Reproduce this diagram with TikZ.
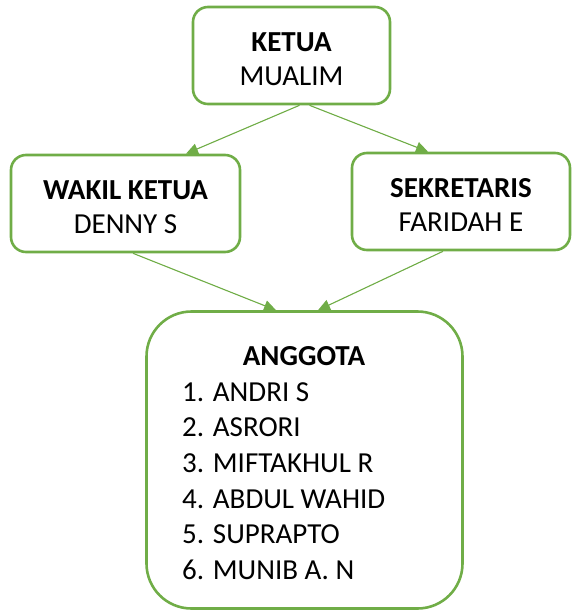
\documentclass[tikz,border=0pt]{standalone}
\usepackage{fontspec}
\setmainfont{Carlito}
\usetikzlibrary{arrows.meta,positioning}
\definecolor{Green}{HTML}{70AD47}

\begin{document}
\begin{tikzpicture}[x=1pt,y=-1pt,>={Triangle[length=12pt,width=11pt]},
    kotak/.style={draw=Green,line width=2.6pt,rounded corners=15pt,align=center,
      minimum height=97pt,inner sep=0pt,font=\fontsize{29}{34}\selectfont},
    panah/.style={->,draw=Green,fill=Green,line width=1.1pt},
    teks/.style={inner sep=0pt,font=\fontsize{29}{35.7}\selectfont}]
  \useasboundingbox (0,0) rectangle (573,614);
  \node[kotak,minimum width=197pt] (ketua) at (291.5,55.5) {\rule{0pt}{26pt}\textbf{KETUA}\\MUALIM};
  \node[kotak,minimum width=229pt] (wakil) at (125.5,203.5) {\rule{0pt}{26pt}\textbf{WAKIL KETUA}\\DENNY S};
  \node[kotak,minimum width=218pt] (sekre) at (461,201.5) {\rule{0pt}{26pt}\textbf{SEKRETARIS}\\FARIDAH E};
  \node[kotak,rounded corners=45pt,minimum width=316pt,minimum height=297pt] (anggota) at (304.5,460) {};
  \node[teks,anchor=base] (judul) at (304,365) {\textbf{ANGGOTA}};
  \node[teks,anchor=north west,align=left] (daftar) at (182,382) {1. ANDRI S\\2. ASRORI\\3. MIFTAKHUL R\\4. ABDUL WAHID\\5. SUPRAPTO\\6. MUNIB A. N};
  % garis komando
  \draw[panah] ([xshift=8pt]ketua.south) -- ([xshift=60.5pt]wakil.north);
  \draw[panah] ([xshift=18pt]ketua.south) -- ([xshift=-33pt]sekre.north);
  \draw[panah] ([xshift=7.5pt]wakil.south) -- ([xshift=-28.5pt]anggota.north);
  \draw[panah] ([xshift=-18pt]sekre.south) -- ([xshift=13.5pt]anggota.north);
\end{tikzpicture}
\end{document}
